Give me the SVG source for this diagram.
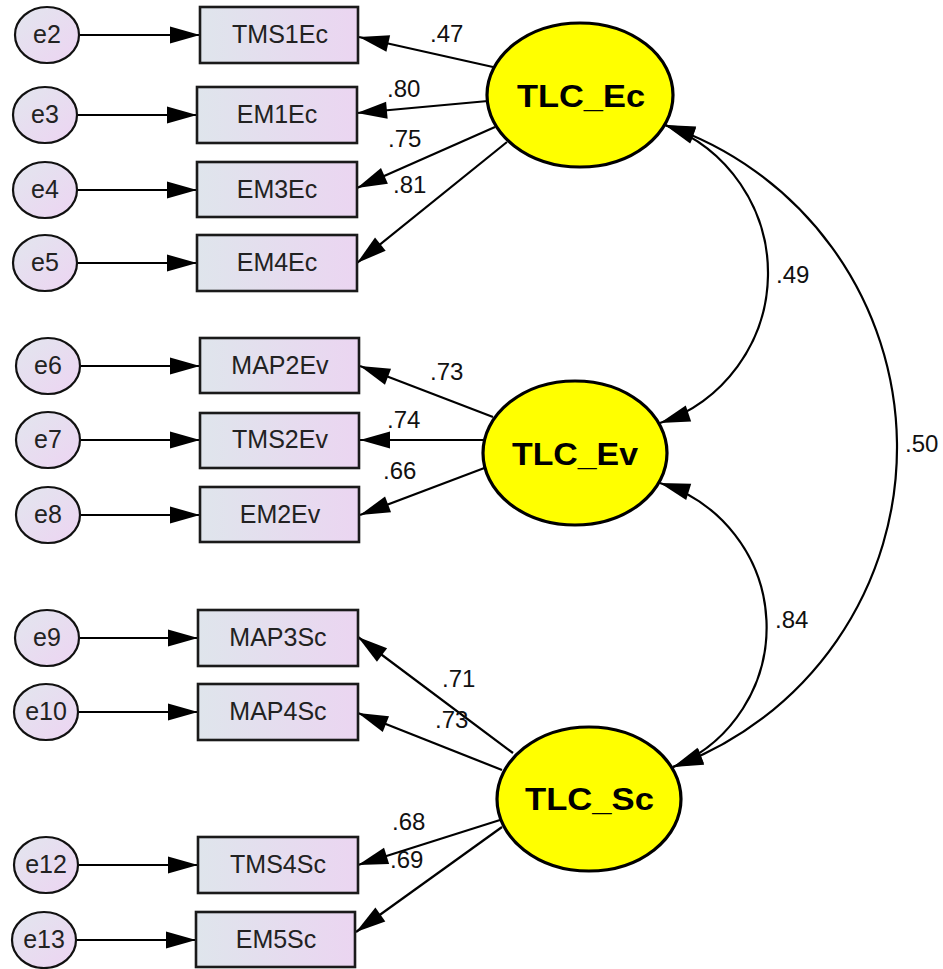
<svg xmlns="http://www.w3.org/2000/svg" width="943" height="969" viewBox="0 0 943 969">
  <defs>
    <linearGradient id="boxFill" x1="0" y1="0" x2="1" y2="0">
      <stop offset="0" stop-color="#dfe5ec"/>
      <stop offset="1" stop-color="#ebd5f1"/>
    </linearGradient>
    <linearGradient id="errFill" x1="0" y1="0" x2="1" y2="1">
      <stop offset="0" stop-color="#e2e6ee"/>
      <stop offset="1" stop-color="#edd4f2"/>
    </linearGradient>
    <marker id="ah" viewBox="-31 -9 32 18" markerWidth="32" markerHeight="18" refX="0" refY="0" orient="auto-start-reverse" markerUnits="userSpaceOnUse">
      <path d="M0,0 L-30,-8.5 L-30,8.5 z" fill="#000"/>
    </marker>
  </defs>
  <style>
    .obs rect { fill: url(#boxFill); stroke: #1a1a1a; stroke-width: 2.6; }
    .obs text { font-family: "Liberation Sans", Arial, sans-serif; font-size: 25px; fill: #222; text-anchor: middle; }
    .err ellipse { fill: url(#errFill); stroke: #111; stroke-width: 2.2; }
    .err text { font-family: "Liberation Sans", Arial, sans-serif; font-size: 25px; fill: #222; text-anchor: middle; }
    .lat ellipse { fill: #ffff00; stroke: #000; stroke-width: 3.2; }
    .lat text { font-family: "Liberation Sans", Arial, sans-serif; font-size: 31px; font-weight: bold; fill: #000; text-anchor: middle; }
    .conn line, .conn path { stroke: #000; stroke-width: 2.2; fill: none; marker-end: url(#ah); }
    .conn path.cov { marker-start: url(#ah); }
    .coef text { font-family: "Liberation Sans", Arial, sans-serif; font-size: 24px; fill: #111; }
  </style>

  <!-- connectors: error terms, loadings, covariances -->
  <g id="connectors" class="conn">
    <line x1="79" y1="35" x2="200" y2="35"/>
    <line x1="77" y1="115" x2="197" y2="115"/>
    <line x1="77" y1="190" x2="197" y2="190"/>
    <line x1="77" y1="263" x2="197" y2="263"/>
    <line x1="80" y1="366" x2="200" y2="366"/>
    <line x1="80" y1="440" x2="200" y2="440"/>
    <line x1="80" y1="515" x2="200" y2="515"/>
    <line x1="79" y1="638" x2="198" y2="638"/>
    <line x1="78" y1="712" x2="198" y2="712"/>
    <line x1="78" y1="865" x2="198" y2="865"/>
    <line x1="76" y1="940" x2="196" y2="940"/>

    <line x1="493" y1="67" x2="359" y2="37"/>
    <line x1="488" y1="101" x2="357" y2="113"/>
    <line x1="495" y1="127" x2="357" y2="188"/>
    <line x1="507" y1="142" x2="357" y2="263"/>

    <line x1="493" y1="417" x2="360" y2="366"/>
    <line x1="483" y1="440" x2="360" y2="440"/>
    <line x1="487" y1="467" x2="360" y2="515"/>

    <line x1="513" y1="753" x2="358" y2="637"/>
    <line x1="502" y1="770" x2="358" y2="713"/>
    <line x1="500" y1="820" x2="358" y2="865"/>
    <line x1="502" y1="827" x2="356" y2="932"/>

    <path class="cov" d="M665,125 A158,158 0 0 1 660,423"/>
    <path class="cov" d="M660,483 A151,151 0 0 1 673,767"/>
    <path class="cov" d="M665,125 A340,340 0 0 1 673,767"/>
  </g>

  <!-- coefficient labels -->
  <g id="coefficients" class="coef">
    <text x="430" y="42">.47</text>
    <text x="387" y="97">.80</text>
    <text x="388" y="147">.75</text>
    <text x="393" y="193">.81</text>
    <text x="776" y="283">.49</text>
    <text x="430" y="380">.73</text>
    <text x="387" y="428">.74</text>
    <text x="383" y="479">.66</text>
    <text x="905" y="452">.50</text>
    <text x="775" y="628">.84</text>
    <text x="442" y="687">.71</text>
    <text x="435" y="728">.73</text>
    <text x="392" y="830">.68</text>
    <text x="390" y="868">.69</text>
  </g>

  <!-- latent factors -->
  <g id="TLC_Ec" class="lat"><ellipse cx="580" cy="95" rx="93" ry="72"/><text x="581" y="107" textLength="128" lengthAdjust="spacingAndGlyphs">TLC_Ec</text></g>
  <g id="TLC_Ev" class="lat"><ellipse cx="575" cy="453" rx="92" ry="72"/><text x="575" y="465" textLength="126" lengthAdjust="spacingAndGlyphs">TLC_Ev</text></g>
  <g id="TLC_Sc" class="lat"><ellipse cx="589" cy="799" rx="92" ry="72"/><text x="589.5" y="810" textLength="129" lengthAdjust="spacingAndGlyphs">TLC_Sc</text></g>

  <!-- observed indicators -->
  <g id="TMS1Ec" class="obs"><rect x="200" y="7" width="158" height="56"/><text x="280" y="43">TMS1Ec</text></g>
  <g id="EM1Ec" class="obs"><rect x="197" y="87" width="160" height="56"/><text x="277" y="123">EM1Ec</text></g>
  <g id="EM3Ec" class="obs"><rect x="197" y="162" width="160" height="55"/><text x="277" y="198">EM3Ec</text></g>
  <g id="EM4Ec" class="obs"><rect x="197" y="235" width="160" height="56"/><text x="277" y="271">EM4Ec</text></g>
  <g id="MAP2Ev" class="obs"><rect x="200" y="338" width="159" height="55"/><text x="280" y="374">MAP2Ev</text></g>
  <g id="TMS2Ev" class="obs"><rect x="200" y="413" width="159" height="55"/><text x="280" y="448">TMS2Ev</text></g>
  <g id="EM2Ev" class="obs"><rect x="200" y="487" width="159" height="55"/><text x="280" y="523">EM2Ev</text></g>
  <g id="MAP3Sc" class="obs"><rect x="198" y="610" width="160" height="56"/><text x="278" y="646">MAP3Sc</text></g>
  <g id="MAP4Sc" class="obs"><rect x="198" y="684" width="160" height="56"/><text x="278" y="720">MAP4Sc</text></g>
  <g id="TMS4Sc" class="obs"><rect x="198" y="837" width="160" height="56"/><text x="278" y="873">TMS4Sc</text></g>
  <g id="EM5Sc" class="obs"><rect x="196" y="912" width="159" height="55"/><text x="276" y="948">EM5Sc</text></g>

  <!-- error terms -->
  <g id="e2" class="err"><ellipse cx="47" cy="35" rx="32" ry="28"/><text x="47" y="43">e2</text></g>
  <g id="e3" class="err"><ellipse cx="45" cy="115" rx="32" ry="28"/><text x="45" y="123">e3</text></g>
  <g id="e4" class="err"><ellipse cx="45" cy="190" rx="32" ry="28"/><text x="45" y="198">e4</text></g>
  <g id="e5" class="err"><ellipse cx="45" cy="263" rx="32" ry="28"/><text x="45" y="271">e5</text></g>
  <g id="e6" class="err"><ellipse cx="48" cy="366" rx="32" ry="28"/><text x="48" y="374">e6</text></g>
  <g id="e7" class="err"><ellipse cx="48" cy="440" rx="32" ry="28"/><text x="48" y="448">e7</text></g>
  <g id="e8" class="err"><ellipse cx="48" cy="515" rx="32" ry="28"/><text x="48" y="523">e8</text></g>
  <g id="e9" class="err"><ellipse cx="47" cy="638" rx="32" ry="28"/><text x="47" y="646">e9</text></g>
  <g id="e10" class="err"><ellipse cx="46" cy="712" rx="32" ry="28"/><text x="46" y="720">e10</text></g>
  <g id="e12" class="err"><ellipse cx="46" cy="865" rx="32" ry="28"/><text x="46" y="873">e12</text></g>
  <g id="e13" class="err"><ellipse cx="44" cy="940" rx="32" ry="28"/><text x="44" y="948">e13</text></g>
</svg>
